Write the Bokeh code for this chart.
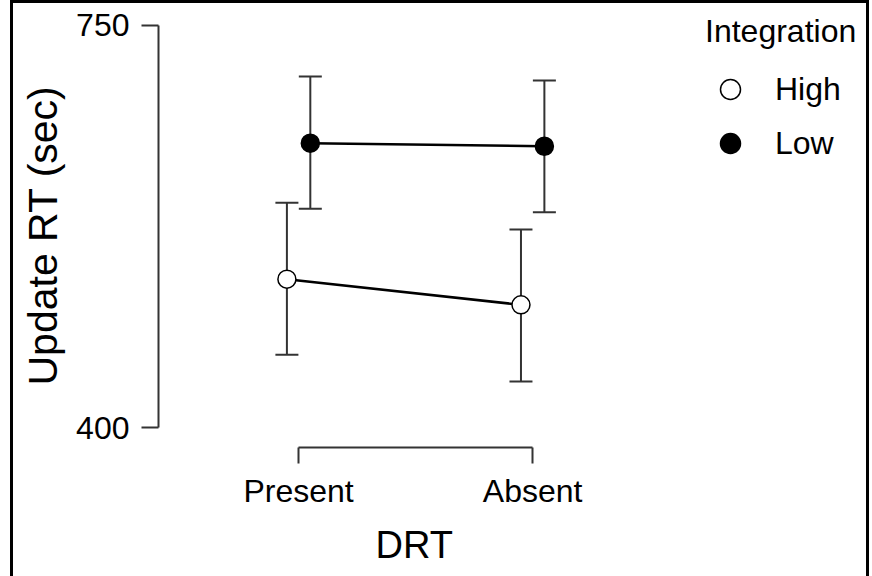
import numpy as np
from bokeh.plotting import figure
from bokeh.models import (ColumnDataSource, Range1d, FixedTicker, Whisker, TeeHead,
                          Legend, LegendItem, Title)
from bokeh.embed import file_html
from bokeh.resources import INLINE

# ---- data ----
drt_levels = ["Present", "Absent"]
integration_levels = ["High", "Low"]
high_mean = [529.4, 507.1]
high_lower = [463.7, 440.4]
high_upper = [595.8, 572.6]
low_mean = [647.7, 645.0]
low_lower = [590.6, 587.7]
low_upper = [705.7, 702.2]
y_ticks = [400, 750]
dodge = 0.05

FONT = "Liberation Sans"
AXIS_COL = "#333333"

pos = np.arange(1, len(drt_levels) + 1, dtype=float)
x_high = pos - dodge
x_low = pos + dodge

p = figure(width=853, height=576, output_backend="svg", toolbar_location=None,
           x_range=Range1d(0.4014, 3.4262), y_range=Range1d(383.04, 768.26),
           min_border_left=144, min_border_right=6, min_border_top=1,
           min_border_bottom=138)
p.styles = {"border": "3px solid black", "margin-left": "10px",
            "box-sizing": "content-box"}
p.background_fill_color = "white"
p.border_fill_color = "white"
p.outline_line_color = None
p.grid.visible = False

src_h = ColumnDataSource(dict(x=x_high, mean=high_mean, lower=high_lower, upper=high_upper))
src_l = ColumnDataSource(dict(x=x_low, mean=low_mean, lower=low_lower, upper=low_upper))

for src in (src_h, src_l):
    w = Whisker(source=src, base="x", upper="upper", lower="lower", dimension="height",
                line_color=AXIS_COL, line_width=2, level="underlay",
                upper_head=TeeHead(size=23, line_color=AXIS_COL, line_width=2),
                lower_head=TeeHead(size=23, line_color=AXIS_COL, line_width=2))
    p.add_layout(w)

p.line("x", "mean", source=src_h, line_color="black", line_width=2.5)
p.line("x", "mean", source=src_l, line_color="black", line_width=2.5)
r_high = p.scatter("x", "mean", source=src_h, size=18, marker="circle",
                   fill_color="white", line_color="black", line_width=1.5)
r_low = p.scatter("x", "mean", source=src_l, size=18, marker="circle",
                  fill_color="black", line_color="black", line_width=1.5)

# ---- axes ----
yax = p.yaxis[0]
yax.ticker = FixedTicker(ticks=y_ticks)
yax.bounds = (y_ticks[0], y_ticks[-1])
xax = p.xaxis[0]
xax.ticker = FixedTicker(ticks=list(pos))
overrides = {float(v): lab for v, lab in zip(pos, drt_levels)}
overrides.update({int(v): lab for v, lab in zip(pos, drt_levels)})
xax.major_label_overrides = overrides
xax.bounds = (pos[0], pos[-1])

for ax in (xax, yax):
    ax.axis_line_color = AXIS_COL
    ax.axis_line_width = 2
    ax.major_tick_line_color = AXIS_COL
    ax.major_tick_line_width = 2
    ax.major_tick_in = 0
    ax.minor_tick_line_color = None
    ax.major_label_text_font = FONT
    ax.major_label_text_font_size = "32px"
    ax.major_label_text_color = "black"

yax.major_tick_out = 17
yax.major_label_standoff = 12
xax.major_tick_out = 16
xax.major_label_standoff = 9

# axis titles (positioned along the axis extents, as in the reference)
y_title = Title(text="Update RT (sec)", align="left", offset=62, vertical_align="top",
                text_font=FONT, text_font_size="41px", text_font_style="normal",
                text_color="black", standoff=12)
p.add_layout(y_title, "left")
x_title = Title(text="DRT", align="left", offset=217,
                text_font=FONT, text_font_size="38px", text_font_style="normal",
                text_color="black", standoff=21)
p.add_layout(x_title, "below")

# ---- legend ----
legend = Legend(items=[LegendItem(label=integration_levels[0], renderers=[r_high]),
                       LegendItem(label=integration_levels[1], renderers=[r_low])],
                title="Integration", location="top_right",
                border_line_alpha=0, background_fill_alpha=0,
                glyph_width=50, glyph_height=54, label_standoff=20, label_width=82,
                spacing=0, padding=5, margin=4, title_standoff=12,
                title_text_font=FONT, title_text_font_size="32px",
                title_text_font_style="normal", title_text_color="black",
                label_text_font=FONT, label_text_font_size="32px",
                label_text_color="black")
p.add_layout(legend)

open("out.html", "w").write(file_html(p, INLINE))
